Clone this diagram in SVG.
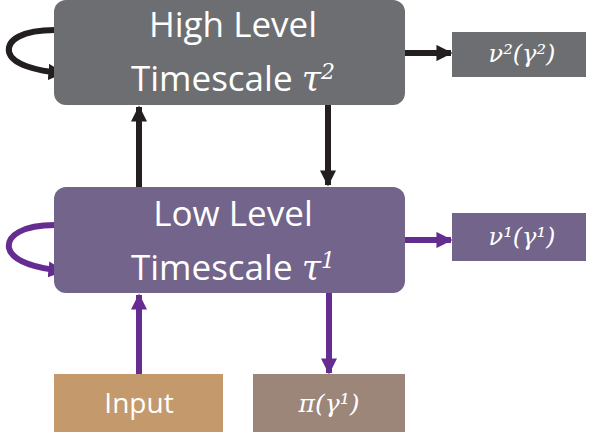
<svg xmlns="http://www.w3.org/2000/svg" width="589" height="436" viewBox="0 0 589 436">
<style>
.lbl{font-family:"Open Sans","Noto Sans",sans-serif;fill:#fff;text-anchor:middle}
.big{font-size:35px}
.math{font-family:"DejaVu Serif","Liberation Serif",serif;font-style:italic;fill:#fff;text-anchor:middle}
.k{stroke:#231f20;stroke-width:6;fill:none}
.p{stroke:#662d91;stroke-width:6;fill:none}
</style>
<defs>
<marker id="ak" viewBox="0 0 10 10" refX="9" refY="5" markerWidth="2.7" markerHeight="2.7" orient="auto" markerUnits="strokeWidth"><path d="M0,0L10,5L0,10z" fill="#231f20"/></marker>
<marker id="ap" viewBox="0 0 10 10" refX="9" refY="5" markerWidth="2.7" markerHeight="2.7" orient="auto" markerUnits="strokeWidth"><path d="M0,0L10,5L0,10z" fill="#662d91"/></marker>
</defs>
<g id="connectors">
<path class="k" d="M139,187V107" marker-end="url(#ak)"/>
<path class="k" d="M328,104V185" marker-end="url(#ak)"/>
<path class="k" d="M404,53H451" marker-end="url(#ak)"/>
<path class="k" d="M55,30C22,30 7,40 9,52C12,64 35,71 63,73" marker-end="url(#ak)"/>
<path class="p" d="M139,374V295" marker-end="url(#ap)"/>
<path class="p" d="M329,292V373" marker-end="url(#ap)"/>
<path class="p" d="M404,240H451" marker-end="url(#ap)"/>
<path class="p" d="M55,225C22,225 7,236 9,248C12,261 35,268 63,271" marker-end="url(#ap)"/>
</g>
<g id="high">
<rect x="54" y="0" width="351" height="105" rx="12" fill="#6d6e71"/>
<text class="lbl big" x="233" y="37">High Level</text>
<text class="lbl big" x="233" y="91">Timescale <tspan class="math" style="text-anchor:start">τ</tspan><tspan class="math" font-size="22" dy="-12" style="text-anchor:start">2</tspan></text>
</g>
<g id="low">
<rect x="54" y="187" width="351" height="106" rx="12" fill="#72648a"/>
<text class="lbl big" x="233" y="226">Low Level</text>
<text class="lbl big" x="233" y="280">Timescale <tspan class="math" style="text-anchor:start">τ</tspan><tspan class="math" font-size="22" dy="-12" style="text-anchor:start">1</tspan></text>
</g>
<g id="v2">
<rect x="452" y="32" width="134" height="45" fill="#6d6e71"/>
<text class="math" x="522" y="62" font-size="24">ν²(γ²)</text>
</g>
<g id="v1">
<rect x="452" y="213" width="134" height="48" fill="#72648a"/>
<text class="math" x="522" y="245" font-size="24">ν¹(γ¹)</text>
</g>
<g id="input">
<rect x="54" y="374" width="169" height="58" fill="#c49a6c"/>
<text class="lbl" x="139" y="413" font-size="28">Input</text>
</g>
<g id="pi">
<rect x="253" y="374" width="152" height="58" fill="#9c8579"/>
<text class="math" x="329" y="412" font-size="25">π(γ¹)</text>
</g>
</svg>
